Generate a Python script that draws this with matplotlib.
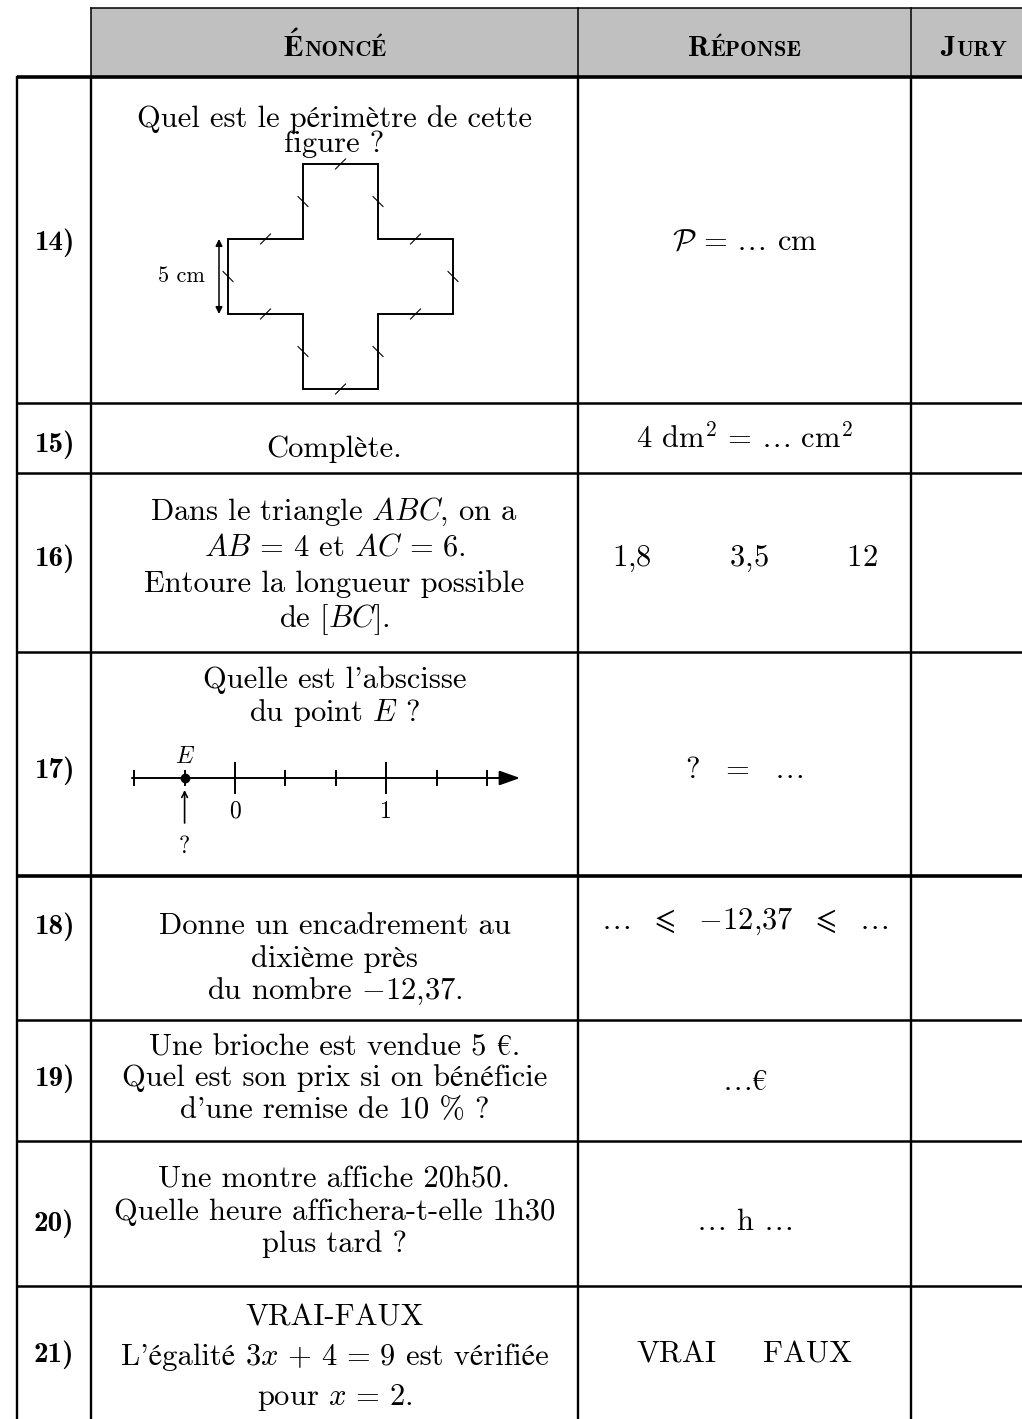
import matplotlib
matplotlib.use('Agg')
import matplotlib.pyplot as plt
from matplotlib.patches import Rectangle, Polygon

plt.rcParams['font.family'] = ['cmr10', 'STIXGeneral']
plt.rcParams['mathtext.fontset'] = 'cm'
plt.rcParams['axes.unicode_minus'] = False

# table content
headers = ['Énoncé', 'Réponse', 'Jury']
row_labels = ['14)', '15)', '16)', '17)', '18)', '19)', '20)', '21)']
enonces = [
    ['Quel est le périmètre de cette', 'figure ?'],
    ['Complète.'],
    ['Dans le triangle $ABC$, on a', r'$AB\,=\,4$ et $AC\,=\,6$.',
     'Entoure la longueur possible', 'de $[BC]$.'],
    ["Quelle est l'abscisse", 'du point $E$ ?'],
    ['Donne un encadrement au', 'dixième près', 'du nombre $-$12,37.'],
    ['Une brioche est vendue 5 €.', 'Quel est son prix si on bénéficie',
     "d'une remise de 10 % ?"],
    ['Une montre affiche 20h50.', 'Quelle heure affichera-t-elle 1h30',
     'plus tard ?'],
    ['VRAI-FAUX', r"L'égalité $3x\,+\,4\,=\,9$ est vérifiée", r'pour $x\,=\,2$.'],
]
reponses = [
    r'$\mathcal{P}\,=\,\ldots$ cm',
    r'4 $\mathrm{dm}^2\,=\,\ldots\ \mathrm{cm}^2$',
    r'1,8 $\qquad\,$ 3,5 $\qquad\,$ 12',
    r'?  $=$  $\ldots$',
    r'$\ldots\ \ \leqslant\ \ {-}12{,}37\ \ \leqslant\ \ \ldots$',
    r'$\ldots$€',
    r'$\ldots$ h $\ldots$',
    r'VRAI $\quad$ FAUX',
]

# figure of question 14 : cross, sides of 5 cm
cross_side_cm = 5
cross_cm = [(5, 0), (10, 0), (10, 5), (15, 5), (15, 10), (10, 10),
            (10, 15), (5, 15), (5, 10), (0, 10), (0, 5), (5, 5)]
cross_label = '5 cm'

# number line of question 17 (graduations in thirds)
nl_ticks = [-2, -1, 0, 1, 2, 3, 4, 5]
nl_labels = {0: '0', 3: '1'}
nl_point = -1
nl_point_name = '$E$'

# layout (pixels)
W, H = 1022, 1419
header_top = 8
col_edges = [17, 91, 578, 911, 1035]
row_edges = [77, 403, 473, 652, 876, 1020, 1141, 1286, 1419]
thick_rows = [77, 876]
enonce_base = [[127, 152], [457], [520, 556, 592, 627], [688, 721],
               [934, 967, 999], [1055, 1086, 1118], [1187, 1220, 1252],
               [1325, 1365, 1405]]
reponse_base = [250, 448, 566, 778, 929, 1090, 1230, 1362]
label_base = [250, 452, 566, 778, 934, 1086, 1231, 1362]

FS = 22


def small_caps(ax, renderer, text, xc, yb):
    first = ax.text(0, yb, text[0].upper(), fontsize=21, family=['cmb10', 'STIXGeneral'],
                    weight='bold', va='baseline', ha='left')
    rest = ax.text(0, yb, text[1:].upper(), fontsize=16, family=['cmb10', 'STIXGeneral'],
                   weight='bold', va='baseline', ha='left')
    w1 = first.get_window_extent(renderer).width
    w2 = rest.get_window_extent(renderer).width
    x0 = xc - (w1 + w2) / 2
    first.set_x(x0)
    rest.set_x(x0 + w1 + 1)


def draw_line(ax, renderer, s, xc, yb, fs=FS):
    # mathtext cannot mix accented letters, so split text and math parts
    if s.isascii() or '$' not in s:
        ax.text(xc, yb, s, fontsize=fs, ha='center', va='baseline')
        return
    a = ax.text(0, 0, 'x x', fontsize=fs).get_window_extent(renderer).width
    b = ax.text(0, 0, 'xx', fontsize=fs)
    sp = a - b.get_window_extent(renderer).width
    for t in ax.texts[-2:]:
        t.remove()
    items = []
    for j, p in enumerate(s.split('$')):
        if not p:
            continue
        if j % 2:
            items.append(('$' + p + '$', 0, 0))
        else:
            items.append((p.strip(), len(p) - len(p.lstrip()), len(p) - len(p.rstrip())))
    placed = []
    for txt, lead, trail in items:
        t = ax.text(0, yb, txt, fontsize=fs, ha='left', va='baseline')
        placed.append((t, lead * sp, t.get_window_extent(renderer).width, trail * sp))
    x = xc - sum(p[1] + p[2] + p[3] for p in placed) / 2
    for t, lead, w, trail in placed:
        x += lead
        t.set_x(x)
        x += w + trail


def main():
    fig = plt.figure(figsize=(W / 100, H / 100), dpi=100)
    ax = fig.add_axes([0, 0, 1, 1])
    ax.set_xlim(0, W)
    ax.set_ylim(H, 0)
    ax.axis('off')
    renderer = fig.canvas.get_renderer()

    # header
    ax.add_patch(Rectangle((col_edges[1], header_top), W - col_edges[1],
                           row_edges[0] - header_top, color='#c0c0c0', lw=0))
    ax.plot([col_edges[1], W], [header_top, header_top], color='k', lw=1.1)
    for x in col_edges[1:4]:
        ax.plot([x, x], [header_top, row_edges[0]], color='k', lw=1.1)
    for i, h in enumerate(headers):
        xc = (col_edges[i + 1] + col_edges[i + 2]) / 2
        small_caps(ax, renderer, h, xc, 56)

    # grid
    for x in col_edges[:4]:
        ax.plot([x, x], [row_edges[0], H], color='k', lw=1.7)
    for y in row_edges[:-1]:
        lw = 2.6 if y in thick_rows else 1.8
        ax.plot([col_edges[0], W], [y, y], color='k', lw=lw, solid_capstyle='butt')

    xl = (col_edges[0] + col_edges[1]) / 2
    xe = (col_edges[1] + col_edges[2]) / 2
    xr = (col_edges[2] + col_edges[3]) / 2
    for i in range(len(row_labels)):
        ax.text(xl, label_base[i], row_labels[i], fontsize=21, family=['cmb10'],
                ha='center', va='baseline')
        for line, yb in zip(enonces[i], enonce_base[i]):
            draw_line(ax, renderer, line, xe, yb)
        draw_line(ax, renderer, reponses[i], xr, reponse_base[i])

    # cross (question 14)
    ox, oy, k = 228, 164, 75 / cross_side_cm
    pts = [(ox + k * a, oy + k * b) for a, b in cross_cm]
    ax.add_patch(Polygon(pts, closed=True, fill=False, ec='k', lw=1.4, joinstyle='miter'))
    for j in range(len(pts)):
        (x1, y1), (x2, y2) = pts[j], pts[(j + 1) % len(pts)]
        mx, my = (x1 + x2) / 2, (y1 + y2) / 2
        if y1 == y2:
            ax.plot([mx - 5, mx + 5], [my + 5, my - 5], color='k', lw=0.8)
        else:
            ax.plot([mx - 5, mx + 5], [my - 5, my + 5], color='k', lw=0.8)
    left_x = min(p[0] for p in pts)
    ax.annotate('', xy=(left_x - 9, oy + k * 5), xytext=(left_x - 9, oy + k * 10),
                arrowprops=dict(arrowstyle='<|-|>', color='k', lw=1.1,
                                mutation_scale=10, shrinkA=0, shrinkB=0))
    ax.text(left_x - 23, oy + k * 7.5 + 6, cross_label, fontsize=16,
            ha='right', va='baseline')

    # number line (question 17)
    x0, step, yl = 235, 50.4, 778
    ax.annotate('', xy=(520, yl), xytext=(132, yl),
                arrowprops=dict(arrowstyle='-|>,head_length=0.9,head_width=0.32',
                                color='k', lw=1.4, mutation_scale=14,
                                shrinkA=0, shrinkB=0))
    for t in nl_ticks:
        h = 15 if t in nl_labels else 7
        ax.plot([x0 + t * step] * 2, [yl - h, yl + h], color='k', lw=1.4)
    for t, lab in nl_labels.items():
        ax.text(x0 + t * step, 818, lab, fontsize=17, ha='center', va='baseline')
    xp = x0 + nl_point * step
    ax.plot([xp], [yl], 'o', color='k', ms=6)
    ax.text(xp, 763, nl_point_name, fontsize=17, ha='center', va='baseline')
    ax.annotate('', xy=(xp, 790), xytext=(xp, 823),
                arrowprops=dict(arrowstyle='->', color='k', lw=1.2,
                                mutation_scale=10, shrinkA=0, shrinkB=0))
    ax.text(xp, 853, '?', fontsize=17, ha='center', va='baseline')

    fig.savefig('out.png', dpi=100)


if __name__ == "__main__":
    main()
